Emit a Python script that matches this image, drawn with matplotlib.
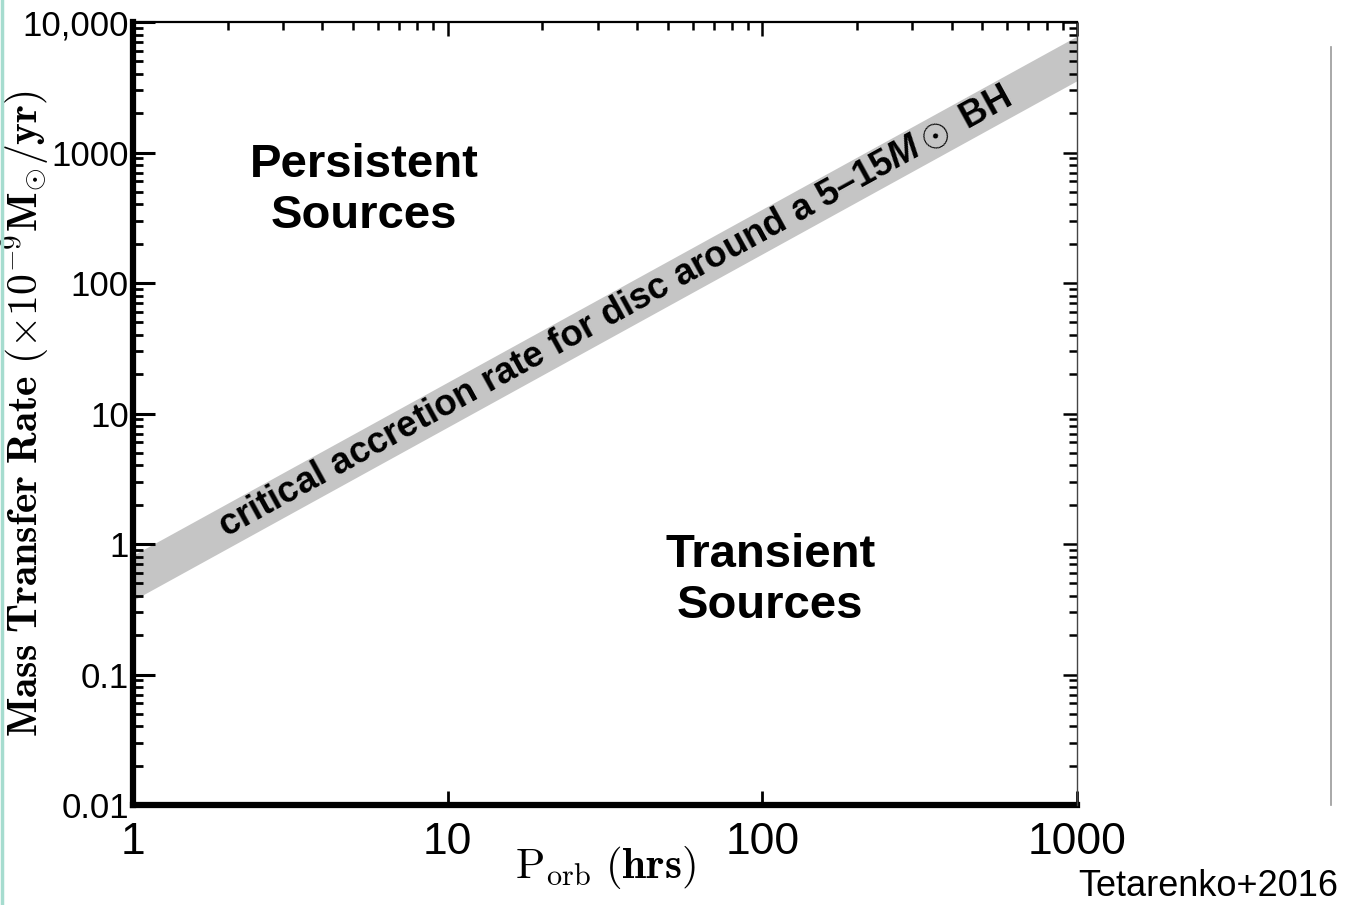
import numpy as np
import matplotlib
matplotlib.use('Agg')
import matplotlib.pyplot as plt
from matplotlib.lines import Line2D
from math import atan2, degrees

plt.rcParams['font.family'] = ['Liberation Sans', 'DejaVu Sans']
plt.rcParams['mathtext.fontset'] = 'custom'
plt.rcParams['mathtext.rm'] = 'Liberation Sans:bold'
plt.rcParams['mathtext.it'] = 'Liberation Sans:italic:bold'
plt.rcParams['mathtext.bf'] = 'Liberation Sans:bold'

# critical accretion rate band (edges)
band_p = [1, 1000]
band_hi = [0.82, 7800]
band_lo = [0.37, 3550]

x_ticks = [1, 10, 100, 1000]
x_labels = ['1', '10', '100', '1000']
y_ticks = [0.01, 0.1, 1, 10, 100, 1000, 10000]
y_labels = ['0.01', '0.1', '1', '10', '100', '1000', '10,000']

fig = plt.figure(figsize=(13.45, 9.05), dpi=100)
ax = fig.add_axes([133/1345, 100/905, 944/1345, 783/905])
ax.set_xscale('log')
ax.set_yscale('log')
ax.set_xlim(1, 1000)
ax.set_ylim(0.01, 10000)

ax.fill_between(band_p, band_lo, band_hi, color='#c5c5c5', linewidth=0, zorder=1)

# spines
ax.spines['left'].set_linewidth(4.5)
ax.spines['bottom'].set_linewidth(4.5)
ax.spines['top'].set_visible(False)
ax.spines['right'].set_visible(False)

ax.set_xticks(x_ticks)
ax.set_xticklabels(x_labels, fontsize=32)
ax.set_yticks(y_ticks)
ax.set_yticklabels(y_labels, fontsize=25)
ax.tick_params(axis='y', which='major', direction='in', length=16, width=2.2, pad=3,
               left=True, right=False)
ax.tick_params(axis='y', which='minor', direction='in', length=7, width=2, left=True, right=False)
ax.tick_params(axis='x', which='major', direction='in', length=10, width=2, pad=12,
               bottom=True, top=False)
ax.tick_params(axis='x', which='minor', direction='in', length=2, width=1.5, bottom=True, top=False)
ax.yaxis.set_minor_formatter(plt.NullFormatter())
ax.xaxis.set_minor_formatter(plt.NullFormatter())

# overlay axes for the top and right frame, with their own shorter ticks
ax2 = fig.add_axes(ax.get_position(), sharex=ax, sharey=ax, facecolor='none')
ax2.spines['left'].set_visible(False)
ax2.spines['bottom'].set_visible(False)
ax2.spines['top'].set_linewidth(1.6)
ax2.spines['right'].set_linewidth(1.0)
ax2.spines['right'].set_color('#444444')
ax2.tick_params(which='both', direction='in', labelleft=False, labelbottom=False,
                left=False, bottom=False, top=True, right=True)
ax2.tick_params(which='major', length=10, width=1.8)
ax2.tick_params(which='minor', length=6, width=1.8)

ax.set_xlabel(r'$\mathrm{P_{orb}}\ \mathbf{(hrs)}$', fontsize=31, math_fontfamily='cm')
ax.set_ylabel(r'$\mathbf{Mass\ Transfer\ Rate\ (\times 10^{-9}M_{\odot}/yr)}$', fontsize=30,
              math_fontfamily='cm')
ax.yaxis.set_label_coords(-0.087, 0.5)
ax.xaxis.set_label_coords(0.5, -0.05)

ax.text(0.245, 0.785, 'Persistent\nSources', transform=ax.transAxes, fontsize=34,
        fontweight='bold', ha='center', va='center', linespacing=1.2)
ax.text(0.675, 0.287, 'Transient\nSources', transform=ax.transAxes, fontsize=34,
        fontweight='bold', ha='center', va='center', linespacing=1.2)

# text along the band
c_lo = np.sqrt(band_lo[0]*band_hi[0])
c_hi = np.sqrt(band_lo[1]*band_hi[1])
p1 = ax.transData.transform((band_p[0], c_lo))
p2 = ax.transData.transform((band_p[1], c_hi))
ang = degrees(atan2(p2[1]-p1[1], p2[0]-p1[0]))
tx = 34.0
frac = np.log10(tx)/3.0
ty = 10**(np.log10(c_lo) + frac*(np.log10(c_hi)-np.log10(c_lo)))
ax.text(tx, ty, 'critical accretion rate for disc around a 5\u201315' + r'$M\odot$ BH',
        fontsize=26.3, fontweight='bold', rotation=ang, rotation_mode='anchor',
        ha='center', va='center', zorder=3)

fig.text(1208/1345, 1-886/905, 'Tetarenko+2016', fontsize=26, ha='center', va='center')

# slide decorations
fig.add_artist(Line2D([1331/1345, 1331/1345], [1-47/905, 1-805/905], color='#999999', lw=1.2))
fig.add_artist(Line2D([1.5/1345, 1.5/1345], [0, 1], color='#a6dccf', lw=2.5))

fig.savefig('out.png', dpi=100)
